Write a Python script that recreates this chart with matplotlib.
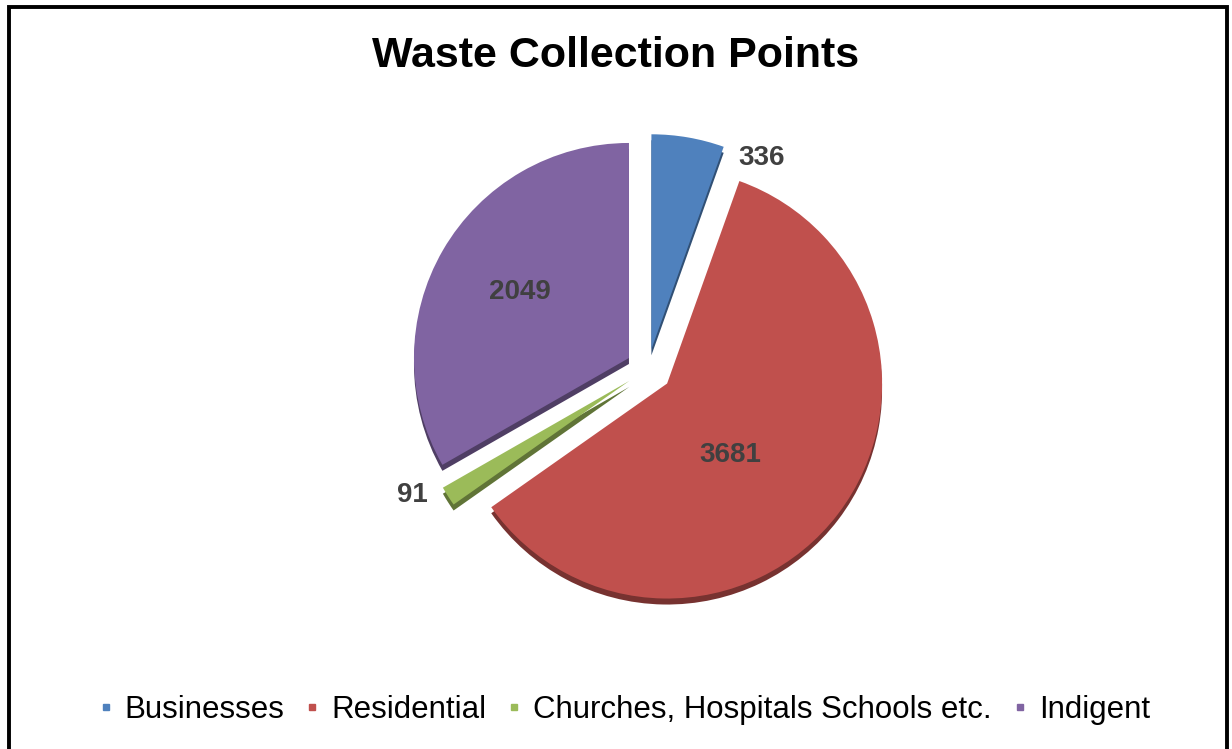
import matplotlib.pyplot as plt
from matplotlib.lines import Line2D
from matplotlib.patches import Rectangle
import matplotlib.colors as mcolors

categories = ['Businesses', 'Residential', 'Churches, Hospitals Schools etc.', 'Indigent']
points = [336, 3681, 91, 2049]
colors = ['#4F81BD', '#C0504D', '#9BBB59', '#8064A2']

# label anchor points (pixels, y measured from the top)
label_xy = [(762, 158), (730, 455), (412, 495), (520, 292)]

W, H = 1232, 749
plt.rcParams['font.family'] = ['Liberation Sans', 'DejaVu Sans']

fig = plt.figure(figsize=(W / 100, H / 100), dpi=100)
ax = fig.add_axes([0, 0, 1, 1])

cx, cy, r = 648, H - 369, 215
explode = [20, 24, 22, 22]

# darker copy underneath gives the slices a bit of depth
dark = [tuple(c * 0.62 for c in mcolors.to_rgb(col)) for col in colors]
ax.pie(points, colors=dark, startangle=90, counterclock=False, explode=explode,
       center=(cx, cy - 6), radius=r, wedgeprops=dict(linewidth=0))
ax.pie(points, colors=colors, startangle=90, counterclock=False, explode=explode,
       center=(cx, cy), radius=r, wedgeprops=dict(linewidth=0))

for v, (lx, ly) in zip(points, label_xy):
    ax.text(lx, H - ly, str(v), ha='center', va='center', fontsize=20,
            fontweight='bold', color='#404040')

ax.set_xlim(0, W)
ax.set_ylim(0, H)
ax.set_aspect('auto')
ax.axis('off')

fig.text(0.5, 1 - 56 / H, 'Waste Collection Points', ha='center', va='center',
         fontsize=31, fontweight='bold', color='black')

handles = [Line2D([], [], marker='s', linestyle='none', markersize=5,
                  markerfacecolor=c, markeredgecolor=c) for c in colors]
fig.legend(handles, categories, loc='center', bbox_to_anchor=(0.507, 1 - 710 / H),
           ncol=4, frameon=False, fontsize=22.5, handlelength=0.4,
           handletextpad=0.4, columnspacing=0.7)

# outer frame (open at the bottom edge)
fig.patches.append(Rectangle((9 / W, -0.1), (1227 - 9) / W, 1.1 - 7 / H,
                             transform=fig.transFigure, fill=False,
                             edgecolor='black', linewidth=2.8))

fig.savefig('out.png', dpi=100, facecolor='white')
